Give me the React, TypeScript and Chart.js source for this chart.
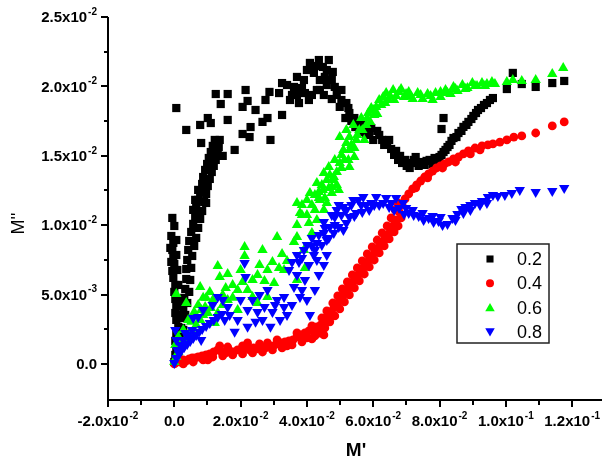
import { useEffect, useRef } from 'react';
import { Chart, registerables } from 'chart.js';

Chart.register(...registerables);

// ---- series metadata ----
const seriesLabels = ['0.2', '0.4', '0.6', '0.8'];
const seriesColors = ['#000000', '#ff0000', '#00ff00', '#0000ff'];
const seriesPointStyles = ['rect', 'circle', 'triangle', 'triangle'];
const seriesRotations = [0, 0, 0, 180];

// ---- axis ticks ----
const xTickValues = [-0.02, 0, 0.02, 0.04, 0.06, 0.08, 0.1, 0.12];
const xTickLabels = ['-2.0x10^-2', '0.0', '2.0x10^-2', '4.0x10^-2', '6.0x10^-2', '8.0x10^-2', '1.0x10^-1', '1.2x10^-1'];
const xMinorTickValues = [-0.01, 0.01, 0.03, 0.05, 0.07, 0.09, 0.11];
const yTickValues = [0, 0.005, 0.01, 0.015, 0.02, 0.025];
const yTickLabels = ['0.0', '5.0x10^-3', '1.0x10^-2', '1.5x10^-2', '2.0x10^-2', '2.5x10^-2'];
const yMinorTickValues = [0.0025, 0.0075, 0.0125, 0.0175, 0.0225];
const xTitle = "M'";
const yTitle = "M''";

// ---- data: [M', M''] ----
const data02 = [
  [0e-2, 0.14e-3], [0.03e-2, 0.65e-3], [0.06e-2, 1.15e-3], [0.03e-2, 1.66e-3], [0.06e-2, 2.16e-3], [0.12e-2, 2.67e-3],
  [0.06e-2, 3.17e-3], [0.03e-2, 3.67e-3], [0.06e-2, 4.18e-3], [0.03e-2, 4.68e-3], [0e-2, 5.19e-3], [0.03e-2, 5.69e-3],
  [-0.03e-2, 6.20e-3], [-0.06e-2, 6.70e-3], [0e-2, 7.20e-3], [-0.03e-2, 7.71e-3], [-0.06e-2, 8.21e-3], [-0.03e-2, 8.72e-3],
  [-0.09e-2, 9.22e-3], [-0.06e-2, 10.52e-3],
  [0.18e-2, 1.95e-3], [0.21e-2, 2.59e-3], [0.24e-2, 3.31e-3], [0.27e-2, 4.03e-3], [0.30e-2, 4.76e-3], [0.33e-2, 5.40e-3],
  [0.36e-2, 6.12e-3], [0.36e-2, 6.84e-3], [0.39e-2, 7.49e-3], [0.42e-2, 8.21e-3], [0.45e-2, 8.86e-3], [0.51e-2, 9.51e-3],
  [0.57e-2, 10.09e-3], [0.63e-2, 10.66e-3], [0.66e-2, 11.24e-3], [0.72e-2, 11.82e-3], [0.78e-2, 12.39e-3], [0.84e-2, 12.97e-3],
  [0.87e-2, 13.47e-3], [0.93e-2, 13.98e-3], [0.99e-2, 14.41e-3], [1.04e-2, 14.84e-3], [1.10e-2, 15.27e-3], [1.16e-2, 15.71e-3],
  [1.22e-2, 16.14e-3], [0.96e-2, 11.60e-3],
  [0.12e-2, 0.43e-3], [0.15e-2, 1.37e-3], [0.18e-2, 2.45e-3], [0.12e-2, 3.53e-3], [0.15e-2, 4.61e-3], [0.12e-2, 5.69e-3],
  [0.09e-2, 6.77e-3], [0.06e-2, 7.85e-3], [-0.09e-2, 7.35e-3], [-0.12e-2, 8.36e-3], [0.06e-2, 8.93e-3], [0e-2, 9.94e-3],
  [0.27e-2, 2.45e-3], [0.33e-2, 3.53e-3], [0.39e-2, 4.39e-3], [0.45e-2, 5.19e-3], [0.48e-2, 6.05e-3], [0.51e-2, 6.92e-3],
  [0.54e-2, 7.78e-3], [0.60e-2, 8.50e-3], [0.66e-2, 9.08e-3], [0.72e-2, 9.80e-3], [0.78e-2, 10.45e-3], [0.84e-2, 11.02e-3],
  [0.90e-2, 11.67e-3], [0.96e-2, 12.25e-3], [1.01e-2, 12.82e-3], [1.07e-2, 13.33e-3], [1.13e-2, 13.83e-3], [1.19e-2, 14.27e-3],
  [1.25e-2, 14.70e-3], [1.31e-2, 15.20e-3], [1.34e-2, 15.63e-3], [0.57e-2, 11.10e-3], [0.63e-2, 11.82e-3], [0.72e-2, 12.54e-3],
  [0.06e-2, 18.44e-3], [0.36e-2, 16.86e-3], [0.78e-2, 17.22e-3], [1.01e-2, 17.72e-3], [1.10e-2, 17.36e-3], [0.81e-2, 15.92e-3],
  [1.37e-2, 16.14e-3], [1.46e-2, 14.99e-3], [1.82e-2, 15.42e-3], [1.61e-2, 17.58e-3], [1.25e-2, 19.45e-3], [1.61e-2, 19.45e-3],
  [1.40e-2, 18.73e-3], [2.15e-2, 19.74e-3], [2.06e-2, 18.52e-3], [2.21e-2, 18.95e-3], [2.45e-2, 18.30e-3], [2.06e-2, 16.57e-3],
  [2.27e-2, 16.35e-3], [2.30e-2, 17.07e-3], [2.66e-2, 17.44e-3], [2.81e-2, 17.72e-3], [2.90e-2, 16.14e-3], [2.75e-2, 19.02e-3],
  [2.87e-2, 19.60e-3], [3.25e-2, 17.94e-3], [3.25e-2, 20.24e-3], [3.16e-2, 19.52e-3], [3.49e-2, 19.02e-3], [3.61e-2, 19.96e-3],
  [3.76e-2, 18.80e-3], [3.70e-2, 20.68e-3], [3.91e-2, 20.46e-3], [4.09e-2, 21.69e-3], [4.36e-2, 21.90e-3], [4.66e-2, 21.90e-3],
  [4.21e-2, 20.97e-3], [4.39e-2, 20.46e-3], [4.60e-2, 21.18e-3], [4.75e-2, 20.46e-3], [3.94e-2, 19.52e-3], [4.15e-2, 19.38e-3],
  [4.39e-2, 19.74e-3], [4.60e-2, 20.10e-3], [4.84e-2, 19.96e-3], [5.04e-2, 19.74e-3], [4.75e-2, 19.09e-3], [4.99e-2, 18.52e-3],
  [3.40e-2, 20.10e-3], [3.55e-2, 19.38e-3], [3.85e-2, 19.88e-3], [4.00e-2, 21.18e-3], [4.24e-2, 21.47e-3], [4.48e-2, 21.40e-3],
  [4.54e-2, 20.68e-3], [4.78e-2, 21.04e-3], [4.30e-2, 19.74e-3], [4.51e-2, 19.38e-3], [4.06e-2, 19.02e-3], [3.70e-2, 19.38e-3],
  [5.19e-2, 18.80e-3], [5.28e-2, 18.08e-3], [5.16e-2, 17.72e-3], [5.34e-2, 17.51e-3], [5.46e-2, 17.07e-3], [5.61e-2, 16.71e-3],
  [5.73e-2, 17.00e-3], [5.88e-2, 16.64e-3], [6.00e-2, 16.14e-3], [6.12e-2, 16.79e-3], [6.27e-2, 16.14e-3], [6.42e-2, 15.92e-3],
  [6.54e-2, 15.49e-3], [6.69e-2, 15.35e-3], [6.81e-2, 14.99e-3], [6.87e-2, 14.48e-3], [7.01e-2, 14.27e-3], [7.16e-2, 14.48e-3],
  [7.28e-2, 14.91e-3], [7.43e-2, 14.55e-3], [7.55e-2, 14.34e-3], [7.70e-2, 14.70e-3], [7.85e-2, 14.84e-3], [8.00e-2, 14.91e-3],
  [4.90e-2, 19.38e-3], [5.04e-2, 19.02e-3], [5.25e-2, 18.44e-3], [5.43e-2, 17.72e-3], [5.55e-2, 17.29e-3], [5.67e-2, 17.44e-3],
  [5.79e-2, 16.50e-3], [5.94e-2, 17.00e-3], [6.18e-2, 16.50e-3], [6.33e-2, 15.78e-3], [6.48e-2, 16.14e-3], [6.63e-2, 15.06e-3],
  [6.75e-2, 14.70e-3], [6.96e-2, 14.70e-3], [7.10e-2, 14.12e-3], [7.22e-2, 14.70e-3], [7.37e-2, 14.27e-3], [7.61e-2, 14.63e-3],
  [7.79e-2, 14.41e-3], [7.94e-2, 14.70e-3], [8.06e-2, 15.06e-3], [8.18e-2, 15.42e-3], [8.30e-2, 15.78e-3], [8.42e-2, 16.28e-3],
  [8.57e-2, 16.64e-3], [8.72e-2, 17.08e-3], [8.87e-2, 17.44e-3], [9.02e-2, 17.87e-3], [9.16e-2, 18.30e-3], [9.34e-2, 18.66e-3],
  [9.52e-2, 19.02e-3],
  [8.12e-2, 15.27e-3], [8.24e-2, 15.63e-3], [8.36e-2, 16.07e-3], [8.51e-2, 16.35e-3], [8.66e-2, 16.79e-3], [8.81e-2, 17.22e-3],
  [8.96e-2, 17.65e-3], [9.10e-2, 18.08e-3], [9.25e-2, 18.44e-3], [9.43e-2, 18.80e-3], [9.61e-2, 19.16e-3], [8.12e-2, 17.72e-3],
  [8.06e-2, 16.93e-3], [10.03e-2, 19.81e-3], [10.21e-2, 20.97e-3], [10.48e-2, 20.17e-3], [10.90e-2, 19.96e-3], [11.40e-2, 20.24e-3],
  [11.76e-2, 20.39e-3],
];

const data04 = [
  [0e-2, 0e-3], [0.09e-2, 0.14e-3], [0.18e-2, 0.14e-3], [0.27e-2, 0.29e-3], [0.36e-2, 0.22e-3], [0.45e-2, 0.36e-3],
  [0.54e-2, 0.43e-3], [0.63e-2, 0.43e-3], [0.72e-2, 0.50e-3], [0.84e-2, 0.58e-3], [0.96e-2, 0.65e-3], [1.07e-2, 0.72e-3],
  [1.19e-2, 0.86e-3], [1.31e-2, 1.01e-3], [1.43e-2, 0.86e-3], [1.55e-2, 0.79e-3], [1.67e-2, 0.94e-3], [1.79e-2, 0.86e-3],
  [1.91e-2, 1.01e-3], [2.03e-2, 0.94e-3], [2.15e-2, 1.15e-3], [2.27e-2, 1.01e-3], [2.39e-2, 1.15e-3], [2.51e-2, 1.08e-3],
  [2.63e-2, 1.22e-3], [2.75e-2, 1.15e-3], [2.87e-2, 1.30e-3], [2.99e-2, 1.30e-3], [3.10e-2, 1.44e-3], [3.22e-2, 1.51e-3],
  [3.34e-2, 1.59e-3], [3.46e-2, 1.66e-3], [3.58e-2, 1.73e-3], [3.70e-2, 1.95e-3], [3.82e-2, 2.09e-3], [3.94e-2, 2.23e-3],
  [4.06e-2, 2.38e-3], [4.18e-2, 2.52e-3], [4.30e-2, 2.67e-3], [4.42e-2, 2.81e-3], [4.51e-2, 2.09e-3], [4.54e-2, 3.10e-3],
  [0.27e-2, 0e-3], [0.57e-2, 0.14e-3], [0.87e-2, 0.29e-3], [1.16e-2, 0.50e-3], [1.46e-2, 0.58e-3], [1.76e-2, 0.65e-3],
  [2.06e-2, 0.72e-3], [2.36e-2, 0.79e-3], [2.66e-2, 0.86e-3], [2.96e-2, 1.01e-3], [3.25e-2, 1.15e-3], [3.55e-2, 1.37e-3],
  [3.85e-2, 1.59e-3], [4.15e-2, 1.80e-3], [1.37e-2, 1.30e-3], [2.06e-2, 1.30e-3], [2.57e-2, 1.44e-3], [3.10e-2, 1.73e-3],
  [3.70e-2, 2.23e-3], [4.15e-2, 2.74e-3],
  [4.63e-2, 3.46e-3], [4.72e-2, 3.75e-3], [4.81e-2, 4.03e-3], [4.90e-2, 4.32e-3], [4.99e-2, 4.61e-3], [5.07e-2, 4.90e-3],
  [5.16e-2, 5.19e-3], [5.25e-2, 5.48e-3], [5.34e-2, 5.76e-3], [5.43e-2, 6.05e-3], [5.52e-2, 6.34e-3], [5.61e-2, 6.63e-3],
  [5.70e-2, 6.92e-3], [5.79e-2, 7.20e-3], [5.88e-2, 7.49e-3], [5.97e-2, 7.78e-3], [6.06e-2, 8.07e-3], [6.15e-2, 8.36e-3],
  [6.24e-2, 8.65e-3], [6.33e-2, 8.93e-3], [6.42e-2, 9.22e-3], [6.51e-2, 9.51e-3], [6.60e-2, 9.94e-3], [6.69e-2, 10.37e-3],
  [4.45e-2, 3.31e-3], [4.60e-2, 3.82e-3], [4.78e-2, 4.39e-3], [4.93e-2, 4.90e-3], [5.07e-2, 5.40e-3], [5.22e-2, 5.91e-3],
  [5.37e-2, 6.41e-3], [5.52e-2, 6.92e-3], [5.67e-2, 7.42e-3], [5.82e-2, 7.93e-3], [5.97e-2, 8.43e-3], [6.12e-2, 8.93e-3],
  [6.27e-2, 9.44e-3], [6.42e-2, 9.94e-3], [6.54e-2, 10.52e-3], [6.66e-2, 11.10e-3], [6.75e-2, 11.60e-3],
  [4.39e-2, 2.23e-3], [4.54e-2, 2.59e-3], [4.69e-2, 3.03e-3], [4.84e-2, 3.46e-3], [4.99e-2, 3.96e-3], [5.13e-2, 4.47e-3],
  [5.28e-2, 4.97e-3], [5.43e-2, 5.48e-3], [5.58e-2, 5.98e-3], [5.73e-2, 6.48e-3], [5.88e-2, 6.99e-3], [6.03e-2, 7.49e-3],
  [6.18e-2, 8.00e-3], [6.33e-2, 8.50e-3], [6.48e-2, 9.01e-3], [6.63e-2, 9.51e-3], [6.75e-2, 9.94e-3], [6.84e-2, 10.52e-3],
  [6.78e-2, 10.95e-3], [6.87e-2, 11.46e-3], [6.96e-2, 11.89e-3], [7.07e-2, 12.25e-3], [7.19e-2, 12.61e-3], [7.31e-2, 12.90e-3],
  [7.43e-2, 13.18e-3], [7.55e-2, 13.47e-3], [7.67e-2, 13.69e-3], [7.79e-2, 13.90e-3], [7.91e-2, 14.12e-3], [8.03e-2, 14.27e-3],
  [8.15e-2, 14.41e-3], [8.27e-2, 14.55e-3], [8.42e-2, 14.77e-3], [8.57e-2, 14.91e-3], [8.72e-2, 15.13e-3], [8.87e-2, 15.35e-3],
  [7.28e-2, 12.68e-3], [7.64e-2, 13.40e-3], [8.09e-2, 14.12e-3], [8.48e-2, 14.55e-3], [8.93e-2, 15.13e-3], [9.22e-2, 15.42e-3],
  [9.82e-2, 15.99e-3],
  [9.07e-2, 15.56e-3], [9.28e-2, 15.71e-3], [9.46e-2, 15.78e-3], [9.61e-2, 15.85e-3], [10.03e-2, 16.14e-3], [10.24e-2, 16.35e-3],
  [10.48e-2, 16.43e-3], [10.90e-2, 16.64e-3], [11.40e-2, 17.15e-3], [11.76e-2, 17.44e-3],
  [1.01e-2, 0.29e-3], [1.61e-2, 1.22e-3], [2.21e-2, 1.51e-3], [2.81e-2, 1.51e-3], [3.40e-2, 1.30e-3], [4.00e-2, 1.87e-3],
  [4.24e-2, 2.02e-3],
];

const data06 = [
  [0e-2, 0.14e-3], [0.06e-2, 0.50e-3], [0.12e-2, 0.86e-3], [0.03e-2, 1.37e-3], [0.18e-2, 1.59e-3], [0.12e-2, 1.95e-3],
  [0.27e-2, 1.37e-3], [0.36e-2, 1.87e-3], [0.45e-2, 2.23e-3], [0.57e-2, 2.23e-3], [0.51e-2, 3.03e-3], [0.66e-2, 2.81e-3],
  [0.78e-2, 3.17e-3], [0.87e-2, 3.53e-3], [0.93e-2, 4.11e-3], [1.01e-2, 3.67e-3], [1.10e-2, 4.03e-3], [1.22e-2, 2.95e-3],
  [1.31e-2, 3.67e-3], [1.46e-2, 4.25e-3], [1.61e-2, 4.61e-3], [1.76e-2, 4.76e-3], [1.91e-2, 3.89e-3],
  [0.27e-2, 2.45e-3], [0.42e-2, 3.17e-3], [0.60e-2, 3.75e-3], [0.72e-2, 4.25e-3], [0.87e-2, 4.76e-3], [1.07e-2, 5.19e-3],
  [1.16e-2, 4.61e-3], [1.46e-2, 4.97e-3], [1.76e-2, 5.69e-3], [1.91e-2, 5.33e-3], [2.06e-2, 5.91e-3], [2.36e-2, 6.05e-3],
  [2.51e-2, 6.41e-3], [2.57e-2, 7.13e-3], [2.96e-2, 7.35e-3], [3.16e-2, 6.92e-3],
  [0.06e-2, 5.04e-3], [0.36e-2, 4.39e-3], [0.78e-2, 5.55e-3], [0.96e-2, 4.76e-3], [0.81e-2, 3.89e-3], [1.31e-2, 7.06e-3],
  [1.37e-2, 6.27e-3], [1.61e-2, 6.48e-3], [1.55e-2, 5.48e-3], [2.00e-2, 6.77e-3], [2.12e-2, 8.43e-3], [2.12e-2, 7.78e-3],
  [2.21e-2, 5.33e-3], [2.36e-2, 4.83e-3], [2.51e-2, 4.39e-3], [2.66e-2, 8.21e-3], [2.72e-2, 5.98e-3], [2.81e-2, 6.77e-3],
  [2.81e-2, 4.83e-3], [3.01e-2, 5.84e-3], [3.10e-2, 9.15e-3], [3.25e-2, 7.93e-3], [3.31e-2, 6.77e-3], [3.40e-2, 7.42e-3],
  [3.61e-2, 8.79e-3], [3.70e-2, 9.15e-3], [3.70e-2, 6.05e-3], [3.91e-2, 8.21e-3], [3.94e-2, 6.92e-3], [3.70e-2, 11.60e-3],
  [3.79e-2, 10.88e-3], [4.06e-2, 10.16e-3], [4.15e-2, 9.44e-3], [4.30e-2, 10.37e-3], [4.51e-2, 11.10e-3], [4.09e-2, 12.32e-3],
  [4.36e-2, 12.39e-3], [4.60e-2, 11.60e-3], [4.75e-2, 12.32e-3], [4.96e-2, 12.54e-3], [3.85e-2, 10.73e-3], [4.00e-2, 11.82e-3],
  [4.24e-2, 12.18e-3], [4.30e-2, 13.04e-3], [4.39e-2, 11.82e-3], [4.45e-2, 12.90e-3], [4.51e-2, 13.76e-3], [4.60e-2, 13.26e-3],
  [4.66e-2, 14.19e-3], [4.69e-2, 13.62e-3], [4.75e-2, 12.75e-3], [4.81e-2, 13.47e-3], [4.84e-2, 14.70e-3], [4.99e-2, 14.48e-3],
  [3.70e-2, 10.01e-3], [3.85e-2, 11.46e-3], [4.00e-2, 10.73e-3], [4.15e-2, 11.46e-3], [4.24e-2, 11.10e-3], [4.36e-2, 11.96e-3],
  [4.48e-2, 12.54e-3], [4.54e-2, 11.96e-3], [4.66e-2, 12.68e-3], [4.78e-2, 13.26e-3], [4.90e-2, 13.83e-3], [4.90e-2, 12.90e-3],
  [5.04e-2, 14.12e-3], [5.13e-2, 14.70e-3], [5.25e-2, 14.70e-3], [5.34e-2, 15.78e-3], [5.43e-2, 15.56e-3], [5.52e-2, 16.50e-3],
  [5.67e-2, 16.86e-3], [5.73e-2, 16.14e-3], [5.82e-2, 17.72e-3], [5.91e-2, 17.44e-3], [6.00e-2, 18.30e-3], [6.12e-2, 18.01e-3],
  [6.24e-2, 18.66e-3], [6.36e-2, 18.80e-3], [6.51e-2, 19.31e-3], [6.63e-2, 19.02e-3], [6.78e-2, 19.60e-3], [6.99e-2, 19.45e-3],
  [7.13e-2, 19.31e-3], [7.43e-2, 19.38e-3], [7.73e-2, 19.31e-3], [8.03e-2, 19.60e-3], [8.24e-2, 19.52e-3], [8.48e-2, 19.81e-3],
  [8.78e-2, 19.81e-3], [9.07e-2, 20.03e-3], [9.37e-2, 20.03e-3], [9.67e-2, 20.17e-3],
  [4.99e-2, 16.35e-3], [5.04e-2, 15.06e-3], [5.10e-2, 15.42e-3], [5.19e-2, 15.92e-3], [5.19e-2, 16.86e-3], [5.28e-2, 16.35e-3],
  [5.28e-2, 15.42e-3], [5.43e-2, 14.91e-3], [5.28e-2, 14.19e-3], [5.40e-2, 17.22e-3], [5.49e-2, 16.14e-3], [5.58e-2, 16.86e-3],
  [5.64e-2, 17.72e-3], [5.79e-2, 17.22e-3], [5.85e-2, 18.08e-3], [5.94e-2, 18.44e-3], [6.03e-2, 17.94e-3], [6.09e-2, 18.52e-3],
  [6.18e-2, 19.02e-3], [6.30e-2, 19.24e-3], [6.39e-2, 19.52e-3], [6.45e-2, 19.02e-3], [6.60e-2, 19.74e-3], [6.69e-2, 19.31e-3],
  [6.84e-2, 19.81e-3], [6.93e-2, 19.24e-3], [7.07e-2, 19.60e-3], [7.19e-2, 19.09e-3], [7.34e-2, 19.52e-3], [7.49e-2, 19.09e-3],
  [7.64e-2, 19.45e-3], [7.79e-2, 19.02e-3], [7.88e-2, 19.52e-3], [8.03e-2, 19.24e-3], [8.18e-2, 19.74e-3], [8.33e-2, 19.45e-3],
  [8.42e-2, 19.96e-3], [8.54e-2, 19.67e-3], [8.69e-2, 20.10e-3], [8.84e-2, 19.88e-3], [8.99e-2, 20.24e-3], [9.13e-2, 20.03e-3],
  [9.28e-2, 20.24e-3], [9.43e-2, 20.17e-3], [9.58e-2, 20.32e-3], [10.03e-2, 20.32e-3], [10.21e-2, 20.46e-3], [10.48e-2, 20.39e-3],
  [10.90e-2, 20.46e-3], [11.40e-2, 20.89e-3], [11.73e-2, 21.33e-3],
];

const data08 = [
  [0e-2, 0.07e-3], [0.06e-2, 0.43e-3], [0.15e-2, 0.72e-3], [0.21e-2, 1.01e-3], [0.30e-2, 1.22e-3], [0.39e-2, 1.44e-3],
  [0.48e-2, 1.66e-3], [0.57e-2, 1.87e-3], [0.66e-2, 2.09e-3], [0.75e-2, 2.31e-3], [0.84e-2, 2.52e-3], [0.96e-2, 2.74e-3],
  [1.07e-2, 2.95e-3], [1.19e-2, 3.17e-3], [1.31e-2, 3.39e-3], [1.43e-2, 3.60e-3], [0.09e-2, 1.01e-3], [0.18e-2, 1.37e-3],
  [0.06e-2, 1.73e-3], [0.27e-2, 1.73e-3], [0.42e-2, 2.09e-3], [0.54e-2, 2.45e-3], [0.03e-2, 2.45e-3], [0.33e-2, 2.23e-3],
  [0.72e-2, 3.39e-3], [0.81e-2, 1.73e-3], [1.31e-2, 4.83e-3], [1.61e-2, 4.11e-3], [1.52e-2, 3.17e-3], [1.82e-2, 2.31e-3],
  [0.57e-2, 3.31e-3], [0.87e-2, 3.89e-3], [1.16e-2, 4.25e-3], [1.46e-2, 4.61e-3], [1.67e-2, 3.53e-3], [1.91e-2, 3.17e-3],
  [2.36e-2, 4.61e-3], [2.57e-2, 4.97e-3], [2.66e-2, 3.17e-3], [2.96e-2, 3.75e-3], [3.10e-2, 4.61e-3], [3.40e-2, 3.53e-3],
  [3.55e-2, 4.25e-3], [4.00e-2, 4.61e-3], [4.24e-2, 5.33e-3],
  [2.12e-2, 7.28e-3], [2.15e-2, 6.27e-3], [2.00e-2, 4.61e-3], [2.21e-2, 3.89e-3], [2.21e-2, 2.67e-3], [2.45e-2, 3.03e-3],
  [2.51e-2, 3.75e-3], [2.72e-2, 4.11e-3], [2.81e-2, 5.33e-3], [2.90e-2, 2.67e-3], [3.19e-2, 3.17e-3], [3.31e-2, 4.11e-3],
  [3.04e-2, 4.25e-3], [3.31e-2, 4.83e-3], [3.46e-2, 6.77e-3], [3.70e-2, 6.41e-3], [3.61e-2, 5.55e-3], [3.79e-2, 4.83e-3],
  [3.85e-2, 5.33e-3], [4.09e-2, 3.53e-3], [3.94e-2, 6.05e-3], [3.76e-2, 7.35e-3], [4.06e-2, 7.13e-3], [4.30e-2, 7.49e-3],
  [4.36e-2, 6.41e-3], [4.51e-2, 7.13e-3], [4.21e-2, 7.85e-3], [3.91e-2, 8.21e-3], [4.15e-2, 8.50e-3], [4.30e-2, 8.72e-3],
  [3.55e-2, 7.35e-3], [3.70e-2, 7.85e-3], [3.85e-2, 7.64e-3], [4.00e-2, 8.57e-3], [4.15e-2, 9.08e-3], [4.24e-2, 8.21e-3],
  [4.36e-2, 9.29e-3], [4.45e-2, 8.57e-3], [4.54e-2, 9.80e-3], [4.66e-2, 9.08e-3], [4.75e-2, 10.73e-3], [4.84e-2, 10.01e-3],
  [4.96e-2, 11.46e-3], [5.04e-2, 10.73e-3], [5.19e-2, 11.10e-3], [5.34e-2, 11.46e-3], [5.43e-2, 10.66e-3], [5.55e-2, 11.82e-3],
  [5.67e-2, 10.95e-3], [5.79e-2, 11.46e-3], [6.03e-2, 11.46e-3], [6.30e-2, 11.60e-3], [6.54e-2, 11.60e-3], [6.63e-2, 11.10e-3],
  [6.78e-2, 11.24e-3], [6.93e-2, 10.81e-3], [7.22e-2, 10.73e-3], [7.52e-2, 10.37e-3], [7.82e-2, 10.23e-3], [8.03e-2, 10.59e-3],
  [8.48e-2, 10.37e-3], [8.72e-2, 10.88e-3], [8.93e-2, 11.10e-3], [9.22e-2, 11.46e-3], [9.43e-2, 11.60e-3], [9.76e-2, 12.10e-3],
  [4.51e-2, 9.44e-3], [4.69e-2, 9.87e-3], [4.84e-2, 10.59e-3], [4.96e-2, 9.87e-3], [5.10e-2, 11.31e-3], [5.10e-2, 9.65e-3],
  [5.28e-2, 10.59e-3], [5.40e-2, 11.82e-3], [5.49e-2, 10.88e-3], [5.70e-2, 12.03e-3], [5.88e-2, 11.10e-3], [6.09e-2, 12.03e-3],
  [6.18e-2, 11.46e-3], [6.39e-2, 11.96e-3], [6.48e-2, 11.31e-3], [6.69e-2, 11.96e-3], [4.60e-2, 8.93e-3], [4.81e-2, 9.44e-3],
  [4.60e-2, 7.85e-3], [4.90e-2, 11.10e-3], [4.51e-2, 10.23e-3], [5.19e-2, 10.16e-3], [5.64e-2, 11.46e-3], [5.94e-2, 11.60e-3],
  [6.90e-2, 11.60e-3], [6.99e-2, 11.24e-3], [7.07e-2, 10.88e-3], [7.19e-2, 11.10e-3], [7.37e-2, 10.66e-3], [7.49e-2, 10.88e-3],
  [7.67e-2, 10.52e-3], [7.79e-2, 10.66e-3], [7.97e-2, 10.30e-3], [8.09e-2, 10.01e-3], [8.24e-2, 10.09e-3], [8.39e-2, 10.52e-3],
  [8.54e-2, 10.81e-3], [8.66e-2, 11.17e-3], [8.78e-2, 11.31e-3], [8.93e-2, 11.46e-3], [9.07e-2, 11.60e-3], [9.28e-2, 11.74e-3],
  [9.46e-2, 12.03e-3], [9.61e-2, 12.18e-3], [9.97e-2, 12.18e-3], [10.18e-2, 12.32e-3], [10.42e-2, 12.54e-3], [10.90e-2, 12.39e-3],
  [11.40e-2, 12.46e-3], [11.76e-2, 12.68e-3],
];

const seriesData = [data02, data04, data06, data08];

const FONT = '"Liberation Sans", Arial, Helvetica, sans-serif';

function drawMarker(ctx: CanvasRenderingContext2D, style: string, rot: number, x: number, y: number, r: number, color: string) {
  ctx.save();
  ctx.fillStyle = color;
  ctx.beginPath();
  if (style === 'rect') {
    const s = r * Math.SQRT1_2;
    ctx.rect(x - s, y - s, 2 * s, 2 * s);
  } else if (style === 'circle') {
    ctx.arc(x, y, r, 0, Math.PI * 2);
  } else {
    let a = (rot * Math.PI) / 180;
    ctx.moveTo(x + Math.sin(a) * r, y - Math.cos(a) * r);
    a += (2 * Math.PI) / 3;
    ctx.lineTo(x + Math.sin(a) * r, y - Math.cos(a) * r);
    a += (2 * Math.PI) / 3;
    ctx.lineTo(x + Math.sin(a) * r, y - Math.cos(a) * r);
    ctx.closePath();
  }
  ctx.fill();
  ctx.restore();
}

function drawSci(ctx: CanvasRenderingContext2D, label: string, x: number, y: number, align: 'right' | 'center') {
  const parts = label.split('^');
  const mant = parts[0];
  const exp = parts[1] || '';
  const mainFont = `bold 15px ${FONT}`;
  const supFont = `bold 10px ${FONT}`;
  ctx.font = mainFont;
  const mw = ctx.measureText(mant).width;
  ctx.font = supFont;
  const ew = exp ? ctx.measureText(exp).width + 1 : 0;
  const total = mw + ew;
  const start = align === 'right' ? x - total : x - total / 2;
  ctx.textAlign = 'left';
  ctx.textBaseline = 'middle';
  ctx.fillStyle = '#000';
  ctx.font = mainFont;
  ctx.fillText(mant, start, y);
  if (exp) {
    ctx.font = supFont;
    ctx.fillText(exp, start + mw + 1, y - 6);
  }
}

const axesPlugin = {
  id: 'originAxes',
  beforeDatasetsDraw(chart: any) {
    const ctx: CanvasRenderingContext2D = chart.ctx;
    const { left, right, top, bottom } = chart.chartArea;
    const xs = chart.scales.x;
    const ys = chart.scales.y;
    ctx.save();
    ctx.strokeStyle = '#000';
    ctx.lineWidth = 2;
    ctx.beginPath();
    ctx.moveTo(left, top);
    ctx.lineTo(left, bottom);
    ctx.lineTo(right, bottom);
    ctx.stroke();
    ctx.beginPath();
    xTickValues.forEach((v) => {
      const px = Math.round(xs.getPixelForValue(v));
      ctx.moveTo(px, bottom);
      ctx.lineTo(px, bottom + 7);
    });
    xMinorTickValues.forEach((v) => {
      const px = Math.round(xs.getPixelForValue(v));
      ctx.moveTo(px, bottom);
      ctx.lineTo(px, bottom + 5);
    });
    yTickValues.forEach((v) => {
      const py = Math.round(ys.getPixelForValue(v));
      ctx.moveTo(left, py);
      ctx.lineTo(left - 7, py);
    });
    yMinorTickValues.forEach((v) => {
      const py = Math.round(ys.getPixelForValue(v));
      ctx.moveTo(left, py);
      ctx.lineTo(left - 4, py);
    });
    ctx.stroke();
    xTickValues.forEach((v, i) => {
      drawSci(ctx, xTickLabels[i], xs.getPixelForValue(v), bottom + 22, 'center');
    });
    yTickValues.forEach((v, i) => {
      drawSci(ctx, yTickLabels[i], left - 11, ys.getPixelForValue(v) + 1, 'right');
    });
    ctx.fillStyle = '#000';
    ctx.textAlign = 'center';
    ctx.textBaseline = 'middle';
    ctx.font = `bold 19px ${FONT}`;
    ctx.fillText(xTitle, (left + right) / 2 + 1, bottom + 51);
    ctx.save();
    ctx.translate(19, (top + bottom) / 2 + 15);
    ctx.rotate(-Math.PI / 2);
    ctx.font = `18px ${FONT}`;
    ctx.fillText(yTitle, 0, 0);
    ctx.restore();
    ctx.restore();
  },
  afterDraw(chart: any) {
    const ctx: CanvasRenderingContext2D = chart.ctx;
    const { right } = chart.chartArea;
    const bx = right - 145;
    const by = 244;
    const bw = 92;
    const bh = 99;
    ctx.save();
    ctx.fillStyle = '#fff';
    ctx.fillRect(bx, by, bw, bh);
    ctx.strokeStyle = '#222';
    ctx.lineWidth = 1.5;
    ctx.strokeRect(bx, by, bw, bh);
    seriesLabels.forEach((lab, i) => {
      const cy = by + 15 + i * 24.3;
      const r = seriesPointStyles[i] === 'triangle' ? 5.5 : seriesPointStyles[i] === 'rect' ? 5 : 4;
      drawMarker(ctx, seriesPointStyles[i], seriesRotations[i], bx + 33, cy + (seriesPointStyles[i] === 'triangle' ? (seriesRotations[i] ? -1 : 1) : 0), r, seriesColors[i]);
      ctx.fillStyle = '#000';
      ctx.font = `18px ${FONT}`;
      ctx.textAlign = 'left';
      ctx.textBaseline = 'middle';
      ctx.fillText(lab, bx + 60, cy + 1);
    });
    ctx.restore();
  },
};

export default function App() {
  const canvasRef = useRef<HTMLCanvasElement | null>(null);

  useEffect(() => {
    if (!canvasRef.current) return;
    const order = [4, 3, 2, 1];
    const chart = new Chart(canvasRef.current, {
      type: 'scatter',
      data: {
        datasets: seriesLabels.map((label, i) => ({
          label,
          data: seriesData[i].map(([x, y]) => ({ x, y })),
          backgroundColor: seriesColors[i],
          borderColor: seriesColors[i],
          borderWidth: 0,
          pointStyle: seriesPointStyles[i] as any,
          pointRotation: seriesRotations[i],
          pointRadius: seriesPointStyles[i] === 'rect' ? 5.8 : seriesPointStyles[i] === 'circle' ? 4.4 : 6,
          order: order[i],
          showLine: false,
        })),
      },
      options: {
        responsive: false,
        animation: false,
        events: [],
        layout: { padding: { top: 17, right: 0, left: 0, bottom: 0 } },
        plugins: {
          legend: { display: false },
          tooltip: { enabled: false },
        },
        scales: {
          x: {
            type: 'linear',
            min: -0.02,
            max: 0.129,
            grid: { display: false },
            border: { display: false },
            ticks: { display: false },
            afterFit: (s: any) => {
              s.height = 61;
            },
          },
          y: {
            type: 'linear',
            min: -0.0026,
            max: 0.025,
            grid: { display: false },
            border: { display: false },
            ticks: { display: false },
            afterFit: (s: any) => {
              s.width = 108;
            },
          },
        },
      } as any,
      plugins: [axesPlugin],
    });
    return () => chart.destroy();
  }, []);

  return (
    <div style={{ position: 'absolute', left: 0, top: 0, width: 608, height: 461, background: '#fff' }}>
      <canvas ref={canvasRef} width={608} height={461} style={{ display: 'block' }} />
    </div>
  );
}
